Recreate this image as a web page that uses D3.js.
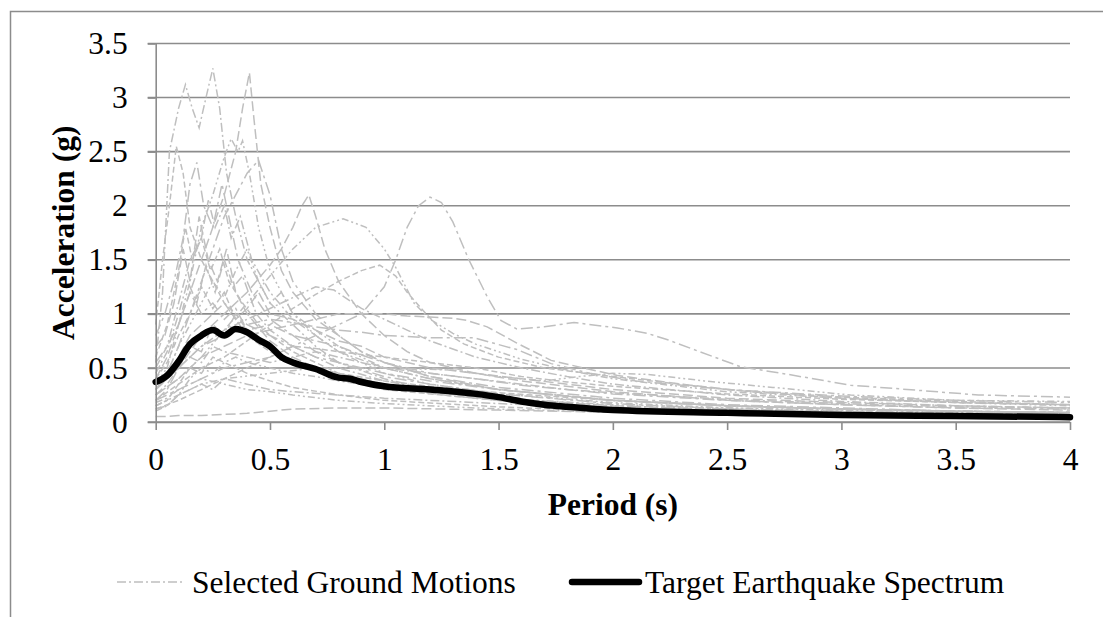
<!DOCTYPE html>
<html><head><meta charset="utf-8">
<script src="https://cdn.jsdelivr.net/npm/d3@7"></script>
<style>
body{margin:0;background:#fff;}
svg text{font-family:"Liberation Serif","Times New Roman",serif;fill:#000;}
</style></head>
<body><svg id="c" width="1103" height="617"></svg>
<script>
// ---- data ----
const xTicks = [0, 0.5, 1, 1.5, 2, 2.5, 3, 3.5, 4];
const yTicks = [0, 0.5, 1, 1.5, 2, 2.5, 3, 3.5];
const seriesNames = ["Selected Ground Motions", "Target Earthquake Spectrum"];

// Target spectrum [period, Sa]
const target = [[0,0.37],[0.05,0.43],[0.1,0.56],[0.15,0.72],[0.2,0.8],[0.25,0.85],[0.3,0.8],[0.35,0.86],[0.4,0.83],[0.45,0.76],[0.5,0.7],[0.55,0.6],[0.6,0.55],[0.7,0.49],[0.8,0.41],[0.85,0.4],[0.9,0.37],[1.0,0.33],[1.2,0.3],[1.4,0.26],[1.5,0.23],[1.6,0.19],[1.7,0.16],[1.8,0.14],[2.0,0.11],[2.5,0.085],[3.0,0.065],[3.5,0.055],[4.0,0.045]];

// Selected ground motions [period, Sa]
const gm01 = [[0,0.55],[0.03,1.2],[0.06,2.5],[0.1,2.9],[0.13,3.12],[0.16,2.9],[0.19,2.72],[0.22,3.0],[0.25,3.27],[0.28,2.9],[0.31,2.3],[0.35,1.9],[0.4,1.5],[0.45,1.3],[0.5,1.1],[0.6,0.9],[0.7,0.7],[0.8,0.55],[1.0,0.4],[1.2,0.3],[1.5,0.22],[2.0,0.15],[2.5,0.11],[3.0,0.08],[3.5,0.07],[4.0,0.06]];
const gm02 = [[0,0.4],[0.05,0.6],[0.1,0.9],[0.15,1.2],[0.2,1.5],[0.25,1.8],[0.3,2.1],[0.35,2.5],[0.38,2.9],[0.41,3.23],[0.43,2.8],[0.46,2.2],[0.5,1.8],[0.55,1.4],[0.6,1.2],[0.7,0.95],[0.8,0.8],[0.9,0.65],[1.0,0.55],[1.2,0.42],[1.5,0.3],[2.0,0.2],[2.5,0.15],[3.0,0.12],[3.5,0.1],[4.0,0.08]];
const gm03 = [[0,0.35],[0.05,0.5],[0.1,0.9],[0.15,1.3],[0.2,1.8],[0.25,2.1],[0.3,2.45],[0.33,2.62],[0.36,2.5],[0.38,2.6],[0.41,2.3],[0.45,1.8],[0.5,1.4],[0.6,1.0],[0.7,0.8],[0.8,0.65],[1.0,0.45],[1.2,0.35],[1.5,0.26],[2.0,0.18],[2.5,0.13],[3.0,0.1],[3.5,0.08],[4.0,0.07]];
const gm04 = [[0,0.3],[0.05,0.45],[0.1,0.7],[0.15,1.0],[0.2,1.3],[0.25,1.6],[0.3,1.9],[0.35,2.1],[0.4,2.3],[0.45,2.42],[0.5,2.1],[0.55,1.6],[0.6,1.3],[0.7,1.0],[0.8,0.8],[0.9,0.65],[1.0,0.55],[1.2,0.42],[1.5,0.32],[2.0,0.22],[2.5,0.16],[3.0,0.13],[3.5,0.1],[4.0,0.09]];
const gm05 = [[0,0.9],[0.03,1.5],[0.06,2.0],[0.09,2.55],[0.12,2.3],[0.15,1.8],[0.2,1.5],[0.25,1.3],[0.3,1.1],[0.35,1.0],[0.4,0.85],[0.5,0.7],[0.6,0.55],[0.8,0.4],[1.0,0.3],[1.5,0.2],[2.0,0.13],[3.0,0.08],[4.0,0.05]];
const gm06 = [[0,0.5],[0.05,0.7],[0.1,1.1],[0.15,1.5],[0.2,1.7],[0.23,2.05],[0.26,1.8],[0.3,2.0],[0.33,1.7],[0.37,1.9],[0.42,1.5],[0.5,1.2],[0.6,0.95],[0.7,0.8],[0.8,0.65],[1.0,0.5],[1.2,0.4],[1.5,0.3],[2.0,0.2],[2.5,0.15],[3.0,0.12],[4.0,0.08]];
const gm07 = [[0,0.3],[0.1,0.5],[0.2,0.8],[0.3,1.0],[0.4,1.2],[0.5,1.45],[0.55,1.6],[0.6,1.8],[0.64,2.0],[0.67,2.1],[0.7,1.9],[0.74,1.6],[0.8,1.3],[0.9,1.0],[1.0,0.8],[1.1,0.65],[1.2,0.55],[1.4,0.45],[1.6,0.38],[2.0,0.28],[2.5,0.2],[3.0,0.16],[3.5,0.13],[4.0,0.11]];
const gm08 = [[0,0.25],[0.1,0.4],[0.2,0.6],[0.3,0.85],[0.4,1.1],[0.5,1.35],[0.6,1.6],[0.7,1.8],[0.82,1.88],[0.92,1.8],[1.0,1.6],[1.05,1.43],[1.13,1.1],[1.2,0.95],[1.3,0.82],[1.4,0.72],[1.6,0.58],[1.8,0.48],[2.0,0.4],[2.5,0.28],[3.0,0.22],[3.5,0.18],[4.0,0.15]];
const gm09 = [[0,0.2],[0.1,0.3],[0.2,0.4],[0.3,0.5],[0.4,0.55],[0.5,0.6],[0.6,0.7],[0.7,0.8],[0.8,0.9],[0.9,1.0],[1.0,1.25],[1.05,1.5],[1.1,1.8],[1.15,2.0],[1.2,2.08],[1.25,2.03],[1.3,1.85],[1.37,1.5],[1.45,1.16],[1.51,0.94],[1.58,0.86],[1.7,0.88],[1.83,0.92],[2.02,0.87],[2.15,0.82],[2.24,0.76],[2.38,0.65],[2.56,0.51],[2.74,0.45],[3.04,0.34],[3.17,0.32],[3.6,0.25],[4.0,0.23]];
const gm10 = [[0,0.2],[0.1,0.35],[0.2,0.5],[0.3,0.6],[0.4,0.75],[0.5,0.9],[0.6,1.05],[0.7,1.18],[0.8,1.3],[0.9,1.4],[0.98,1.45],[1.05,1.35],[1.1,1.2],[1.17,1.03],[1.25,0.85],[1.35,0.72],[1.5,0.6],[1.7,0.5],[2.0,0.42],[2.5,0.3],[3.0,0.23],[3.5,0.19],[4.0,0.16]];
const gm11 = [[0,0.3],[0.1,0.5],[0.2,0.7],[0.3,0.85],[0.4,0.95],[0.5,1.05],[0.6,1.15],[0.7,1.25],[0.78,1.22],[0.9,1.05],[1.0,0.95],[1.1,0.85],[1.2,0.75],[1.4,0.6],[1.6,0.5],[1.8,0.42],[2.0,0.35],[2.5,0.25],[3.0,0.19],[3.5,0.15],[4.0,0.13]];
const gm12 = [[0,0.25],[0.1,0.4],[0.2,0.6],[0.3,0.7],[0.4,0.8],[0.5,0.85],[0.6,0.9],[0.7,0.95],[0.8,1.0],[0.9,1.0],[1.0,1.0],[1.1,0.98],[1.2,0.97],[1.3,0.96],[1.36,0.94],[1.45,0.88],[1.58,0.73],[1.73,0.57],[1.87,0.5],[2.02,0.43],[2.3,0.35],[2.6,0.28],[3.0,0.22],[3.5,0.18],[4.0,0.16]];
const gm13 = [[0,0.15],[0.1,0.25],[0.2,0.35],[0.3,0.4],[0.5,0.45],[0.7,0.5],[1.0,0.5],[1.3,0.48],[1.5,0.42],[1.7,0.38],[1.85,0.42],[2.0,0.45],[2.15,0.44],[2.4,0.38],[2.7,0.32],[3.04,0.25],[3.5,0.2],[4.0,0.19]];
const gm14 = [[0,0.3],[0.1,0.5],[0.2,0.7],[0.3,0.8],[0.4,0.9],[0.5,0.95],[0.6,0.92],[0.7,0.88],[0.8,0.85],[0.9,0.83],[1.0,0.8],[1.2,0.78],[1.39,0.78],[1.58,0.67],[1.73,0.54],[1.9,0.45],[2.1,0.38],[2.5,0.3],[3.0,0.24],[3.5,0.2],[4.0,0.18]];
const gm15 = [[0,0.6],[0.05,0.9],[0.1,1.4],[0.13,1.8],[0.16,1.5],[0.2,1.7],[0.24,1.4],[0.28,1.6],[0.32,1.3],[0.38,1.1],[0.45,0.9],[0.5,0.8],[0.6,0.65],[0.7,0.55],[0.8,0.45],[1.0,0.35],[1.2,0.28],[1.5,0.2],[2.0,0.13],[3.0,0.08],[4.0,0.05]];
const gm16 = [[0,0.45],[0.05,0.65],[0.1,1.0],[0.14,1.3],[0.18,1.1],[0.22,1.45],[0.26,1.2],[0.3,1.5],[0.34,1.25],[0.38,1.35],[0.44,1.0],[0.5,0.85],[0.6,0.7],[0.7,0.6],[0.8,0.5],[1.0,0.38],[1.2,0.3],[1.5,0.22],[2.0,0.15],[3.0,0.09],[4.0,0.06]];
const gm17 = [[0,0.7],[0.04,0.8],[0.08,1.1],[0.12,1.6],[0.15,1.3],[0.19,1.9],[0.23,1.5],[0.27,1.3],[0.31,1.6],[0.35,1.2],[0.4,1.0],[0.5,0.75],[0.6,0.6],[0.7,0.5],[0.85,0.4],[1.0,0.32],[1.3,0.24],[1.6,0.18],[2.0,0.12],[3.0,0.07],[4.0,0.05]];
const gm18 = [[0,0.35],[0.05,0.45],[0.1,0.7],[0.15,0.9],[0.2,1.1],[0.25,1.3],[0.3,1.15],[0.35,1.4],[0.4,1.6],[0.45,1.3],[0.5,1.1],[0.55,1.2],[0.6,1.0],[0.7,0.85],[0.8,0.7],[1.0,0.5],[1.2,0.4],[1.5,0.3],[2.0,0.2],[2.5,0.15],[3.0,0.12],[4.0,0.08]];
const gm19 = [[0,0.2],[0.05,0.3],[0.1,0.5],[0.15,0.7],[0.2,0.65],[0.25,0.9],[0.3,0.8],[0.35,1.0],[0.4,0.9],[0.5,0.8],[0.6,0.7],[0.7,0.6],[0.8,0.55],[1.0,0.45],[1.2,0.38],[1.5,0.3],[2.0,0.2],[2.5,0.15],[3.0,0.12],[3.5,0.1],[4.0,0.09]];
const gm20 = [[0,0.15],[0.05,0.2],[0.1,0.35],[0.15,0.5],[0.2,0.45],[0.25,0.6],[0.3,0.55],[0.35,0.5],[0.4,0.45],[0.5,0.38],[0.6,0.32],[0.8,0.25],[1.0,0.2],[1.5,0.14],[2.0,0.1],[3.0,0.06],[4.0,0.04]];
const gm21 = [[0,0.12],[0.05,0.15],[0.1,0.25],[0.15,0.3],[0.2,0.35],[0.25,0.3],[0.3,0.4],[0.4,0.35],[0.5,0.3],[0.6,0.28],[0.8,0.25],[1.0,0.22],[1.2,0.2],[1.5,0.17],[2.0,0.13],[2.5,0.1],[3.0,0.08],[3.5,0.07],[4.0,0.06]];
const gm22 = [[0,0.05],[0.05,0.05],[0.1,0.06],[0.2,0.06],[0.3,0.07],[0.4,0.08],[0.5,0.1],[0.6,0.12],[0.8,0.13],[1.0,0.13],[1.5,0.11],[2.0,0.09],[2.5,0.08],[3.0,0.07],[3.5,0.06],[4.0,0.05]];
const gm23 = [[0,0.1],[0.05,0.15],[0.1,0.25],[0.15,0.4],[0.2,0.5],[0.25,0.45],[0.3,0.55],[0.35,0.6],[0.4,0.55],[0.5,0.5],[0.6,0.45],[0.7,0.42],[0.8,0.38],[1.0,0.32],[1.2,0.28],[1.5,0.22],[2.0,0.16],[2.5,0.13],[3.0,0.11],[3.5,0.09],[4.0,0.08]];
const gm24 = [[0,0.55],[0.05,0.7],[0.1,0.9],[0.15,1.2],[0.2,1.0],[0.25,1.1],[0.3,0.95],[0.35,1.05],[0.4,0.85],[0.5,0.9],[0.6,0.8],[0.7,0.75],[0.8,0.7],[0.9,0.62],[1.0,0.55],[1.2,0.45],[1.4,0.4],[1.6,0.34],[2.0,0.26],[2.5,0.2],[3.0,0.16],[3.5,0.13],[4.0,0.12]];
const gm25 = [[0,0.4],[0.05,0.55],[0.1,0.8],[0.15,1.0],[0.2,1.25],[0.25,1.05],[0.3,1.2],[0.35,0.95],[0.4,0.8],[0.5,0.65],[0.6,0.55],[0.7,0.5],[0.8,0.45],[1.0,0.38],[1.2,0.33],[1.5,0.27],[2.0,0.2],[2.5,0.15],[3.0,0.12],[3.5,0.1],[4.0,0.09]];
const gm26 = [[0,0.25],[0.05,0.35],[0.1,0.5],[0.15,0.6],[0.2,0.55],[0.25,0.7],[0.3,0.65],[0.4,0.6],[0.5,0.55],[0.6,0.6],[0.7,0.65],[0.8,0.6],[0.9,0.55],[1.0,0.5],[1.2,0.45],[1.4,0.4],[1.6,0.35],[1.8,0.3],[2.0,0.27],[2.5,0.21],[3.0,0.17],[3.5,0.14],[4.0,0.13]];
const gm27 = [[0,0.3],[0.05,0.4],[0.1,0.6],[0.15,0.8],[0.2,0.9],[0.25,1.0],[0.3,1.1],[0.35,0.95],[0.4,1.05],[0.45,1.2],[0.5,1.0],[0.6,0.95],[0.7,0.85],[0.8,0.75],[0.9,0.7],[1.0,0.6],[1.2,0.5],[1.4,0.45],[1.6,0.4],[2.0,0.3],[2.5,0.22],[3.0,0.18],[3.5,0.15],[4.0,0.13]];
const gm28 = [[0,0.18],[0.05,0.22],[0.1,0.3],[0.15,0.35],[0.2,0.4],[0.3,0.35],[0.4,0.3],[0.5,0.28],[0.6,0.25],[0.8,0.2],[1.0,0.17],[1.5,0.12],[2.0,0.09],[3.0,0.06],[4.0,0.045]];
const gm29 = [[0,0.8],[0.04,1.0],[0.08,1.3],[0.12,1.7],[0.15,2.2],[0.18,2.4],[0.21,2.0],[0.25,1.8],[0.29,2.2],[0.32,1.9],[0.36,1.5],[0.42,1.2],[0.5,0.95],[0.6,0.8],[0.7,0.65],[0.8,0.55],[1.0,0.42],[1.2,0.35],[1.5,0.26],[2.0,0.17],[2.5,0.12],[3.0,0.1],[3.5,0.08],[4.0,0.07]];
const gm30 = [[0,0.12],[0.1,0.2],[0.2,0.3],[0.3,0.4],[0.4,0.5],[0.5,0.6],[0.6,0.7],[0.7,0.68],[0.8,0.65],[1.0,0.6],[1.2,0.55],[1.4,0.5],[1.6,0.42],[1.8,0.37],[2.0,0.33],[2.5,0.26],[3.0,0.21],[3.5,0.18],[4.0,0.16]];
const groundMotions = [gm01,gm02,gm03,gm04,gm05,gm06,gm07,gm08,gm09,gm10,gm11,gm12,gm13,gm14,gm15,gm16,gm17,gm18,gm19,gm20,gm21,gm22,gm23,gm24,gm25,gm26,gm27,gm28,gm29,gm30];

// ---- drawing ----
const svg = d3.select("#c");
const gridCol = "#8c8c8c";
const FS = "31.5px";
const m = {l:155.7, r:1070, t:43.5, b:422};
const x = d3.scaleLinear().domain([0,4]).range([m.l, m.r]);
const y = d3.scaleLinear().domain([0,3.5]).range([m.b, m.t]);

// outer frame
svg.append("rect").attr("x",10.5).attr("y",11.5).attr("width",1200).attr("height",700)
  .attr("fill","none").attr("stroke",gridCol).attr("stroke-width",1.5);

// gridlines
svg.append("g").selectAll("line").data(yTicks.filter(d=>d>0)).join("line")
  .attr("x1",m.l-8).attr("x2",m.r).attr("y1",d=>y(d)).attr("y2",d=>y(d))
  .attr("stroke",gridCol).attr("stroke-width",1.6);

// ground motions
const dashes = ["9,3,2,3","10,4","7,3,2,3,2,3","12,4,3,4","6,3"];
const line = d3.line().x(d=>x(d[0])).y(d=>y(d[1]));
svg.append("g").selectAll("path").data(groundMotions).join("path")
  .attr("d",line).attr("fill","none").attr("stroke","#bfbfbf").attr("stroke-width",1.5)
  .attr("stroke-dasharray",(d,i)=>dashes[i%dashes.length]);

// target
svg.append("path").datum(target)
  .attr("d",d3.line().x(d=>x(d[0])).y(d=>y(d[1])).curve(d3.curveMonotoneX))
  .attr("fill","none").attr("stroke","#000").attr("stroke-width",6.5)
  .attr("stroke-linecap","round").attr("stroke-linejoin","round");

// axes
const fmt = d => String(d);
const ax = svg.append("g").attr("transform",`translate(0,${m.b})`)
  .call(d3.axisBottom(x).tickValues(xTicks).tickFormat(fmt).tickSize(8).tickSizeOuter(0).tickPadding(18));
const ay = svg.append("g").attr("transform",`translate(${m.l},0)`)
  .call(d3.axisLeft(y).tickValues(yTicks).tickFormat(fmt).tickSize(8).tickSizeOuter(0).tickPadding(20));
[ax,ay].forEach(g=>{
  g.select(".domain").attr("stroke",gridCol).attr("stroke-width",1.6);
  g.selectAll(".tick line").attr("stroke",gridCol).attr("stroke-width",1.6);
  g.selectAll(".tick text").style("font-family",'"Liberation Serif","Times New Roman",serif')
    .style("font-size",FS).attr("fill","#000");
});
svg.append("line").attr("x1",m.l-8).attr("x2",m.r).attr("y1",m.b).attr("y2",m.b)
  .attr("stroke",gridCol).attr("stroke-width",1.6);

// axis titles
svg.append("text").attr("x",(m.l+m.r)/2).attr("y",515).attr("text-anchor","middle")
  .style("font-size",FS).style("font-weight","bold").text("Period (s)");
svg.append("text").attr("transform",`translate(74,${(m.t+m.b)/2}) rotate(-90)`).attr("text-anchor","middle")
  .style("font-size",FS).style("font-weight","bold").text("Acceleration (g)");

// legend
const lg = svg.append("g");
lg.append("line").attr("x1",117).attr("x2",185).attr("y1",582).attr("y2",582)
  .attr("stroke","#bfbfbf").attr("stroke-width",1.5).attr("stroke-dasharray","9,3,2,3");
lg.append("text").attr("x",192).attr("y",593).style("font-size",FS).text(seriesNames[0]);
lg.append("line").attr("x1",572).attr("x2",639).attr("y1",582).attr("y2",582)
  .attr("stroke","#000").attr("stroke-width",6.5).attr("stroke-linecap","round");
lg.append("text").attr("x",645).attr("y",593).style("font-size",FS).text(seriesNames[1]);
</script></body></html>
